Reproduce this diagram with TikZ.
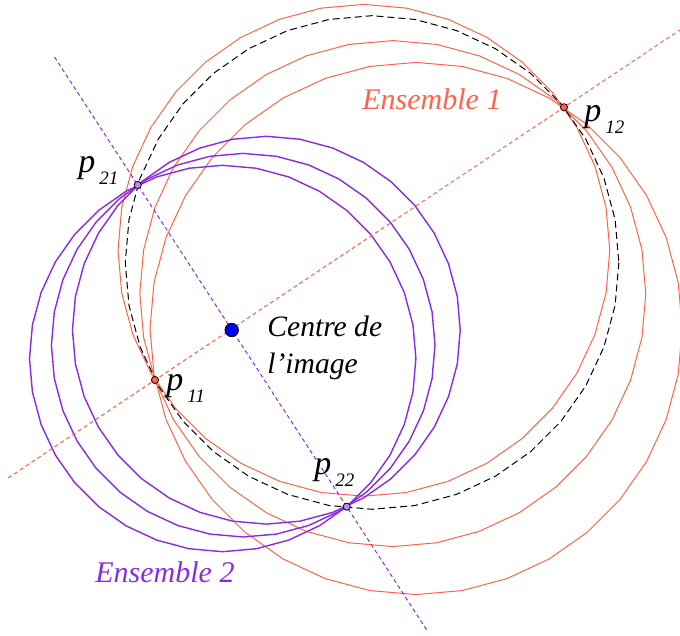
\documentclass[tikz,border=0pt]{standalone}
\usepackage{fontspec}
\setmainfont{Liberation Serif}
\usetikzlibrary{calc}
\definecolor{ens1}{RGB}{255,99,71}
\definecolor{ens2}{RGB}{138,43,226}
\newcommand{\plab}[1]{\fontsize{17}{17}\selectfont\itshape p\kern2pt\raisebox{-6pt}{\fontsize{9.5}{10}\selectfont #1}}

\begin{document}
\begin{tikzpicture}[x=0.5pt,y=-0.5pt,
  pt/.style={circle,draw=black,line width=0.4pt,inner sep=0pt,minimum size=3.6pt},
  lab/.style={anchor=base west,inner sep=0pt}]
\useasboundingbox (0,0) rectangle (680,636);
\coordinate (p11) at (155,380);
\coordinate (p12) at (564,107.3);
\coordinate (p21) at (137.7,185);
\coordinate (p22) at (346.7,506.7);
\foreach \cx/\cy/\r in {363.9/250.3/245.9, 392.8/293.6/253.0, 416.1/328.5/266.1}
  \draw[ens1,line width=0.5pt] plot[domain=0:360,samples=37] ({\cx+\r*cos(\x)},{\cy+\r*sin(\x)});
\foreach \cx/\cy/\r in {222.7/358.5/193.2, 243.2/345.2/191.8, 266.35/330.2/193.9}
  \draw[ens2,line width=0.7pt] plot[domain=0:360,samples=37] ({\cx+\r*cos(\x)},{\cy+\r*sin(\x)});
\draw[line width=0.5pt,dash pattern=on 3.5pt off 2pt] plot[domain=0:360,samples=37] ({372.05+246.8*cos(\x)},{262.48+246.8*sin(\x)});
\draw[ens1,line width=0.5pt,dash pattern=on 2pt off 1.5pt] ($(p11)!-0.359!(p12)$) -- ($(p12)!-0.284!(p11)$);
\draw[ens2,line width=0.5pt,dash pattern=on 2pt off 1.5pt] ($(p21)!-0.398!(p22)$) -- ($(p22)!-0.383!(p21)$);
\node[pt,fill=ens1] (m11) at (p11) {};
\node[pt,fill=ens1] (m12) at (p12) {};
\node[pt,fill=ens2!55] (m21) at (p21) {};
\node[pt,fill=ens2!55] (m22) at (p22) {};
\node[circle,draw,fill=blue,line width=0.4pt,inner sep=0pt,minimum size=6.7pt] (centre) at (231.7,330) {};
\node[align=left,anchor=west,inner sep=0pt,font=\fontsize{14.8}{18.5}\selectfont\itshape] (ctxt) at (267,348) {Centre de\\l’image};
\node[lab,text=ens1,font=\fontsize{15}{17}\selectfont\itshape] (e1) at (362,110) {Ensemble 1};
\node[lab,text=ens2,font=\fontsize{15}{17}\selectfont\itshape] (e2) at (95,582) {Ensemble 2};
\node[lab] (l21) at (78,173) {\plab{21}};
\node[lab] (l11) at (166,390) {\plab{11}};
\node[lab] (l22) at (314,474) {\plab{22}};
\node[lab] (l12) at (584,121.7) {\plab{12}};
\end{tikzpicture}
\end{document}
